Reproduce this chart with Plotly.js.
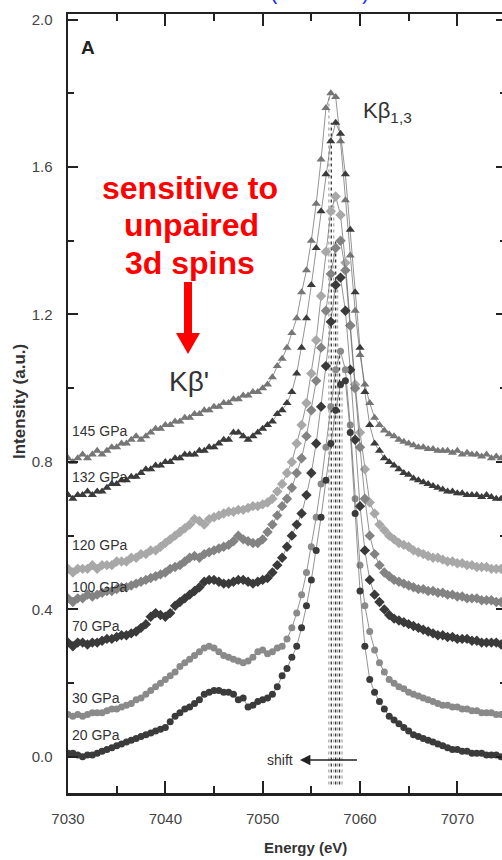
<!DOCTYPE html>
<html>
<head>
<meta charset="utf-8">
<script src="https://cdn.plot.ly/plotly-3.0.1.min.js"></script>
<style>
  html, body { margin: 0; padding: 0; overflow: hidden; background: #fff; }
  #chart { width: 510px; height: 860px; }
</style>
</head>
<body>
<div id="chart"></div>
<script>
// Fe K-beta emission spectra at increasing pressure (offset vertically)
const energy = [
  7030,7030.5,7031,7031.5,7032,7032.5,7033,7033.5,7034,7034.5,
  7035,7035.5,7036,7036.5,7037,7037.5,7038,7038.5,7039,7039.5,
  7040,7040.5,7041,7041.5,7042,7042.5,7043,7043.5,7044,7044.5,
  7045,7045.5,7046,7046.5,7047,7047.5,7048,7048.5,7049,7049.5,
  7050,7050.5,7051,7051.5,7052,7052.5,7053,7053.5,7054,7054.5,
  7055,7055.5,7056,7056.5,7057,7057.5,7058,7058.5,7059,7059.5,
  7060,7060.5,7061,7061.5,7062,7062.5,7063,7063.5,7064,7064.5,
  7065,7065.5,7066,7066.5,7067,7067.5,7068,7068.5,7069,7069.5,
  7070,7070.5,7071,7071.5,7072,7072.5,7073,7073.5,7074,7074.5
];

const gpa145 = [
  0.81,0.80,0.81,0.82,0.81,0.82,0.83,0.82,0.83,0.84,
  0.84,0.85,0.85,0.86,0.87,0.86,0.87,0.88,0.89,0.89,
  0.90,0.90,0.91,0.91,0.92,0.92,0.93,0.93,0.94,0.94,
  0.95,0.95,0.96,0.96,0.97,0.97,0.98,0.98,0.99,0.99,
  1.00,1.01,1.03,1.06,1.08,1.11,1.15,1.19,1.26,1.32,
  1.40,1.50,1.62,1.76,1.80,1.79,1.67,1.51,1.36,1.21,
  1.09,1.01,0.96,0.92,0.90,0.885,0.875,0.87,0.86,0.855,
  0.85,0.845,0.84,0.84,0.835,0.835,0.83,0.83,0.83,0.825,
  0.83,0.82,0.825,0.82,0.82,0.815,0.82,0.81,0.815,0.81
];
const gpa132 = [
  0.71,0.70,0.71,0.71,0.72,0.71,0.72,0.72,0.73,0.74,
  0.74,0.75,0.75,0.76,0.76,0.77,0.78,0.78,0.79,0.79,
  0.80,0.80,0.81,0.81,0.82,0.82,0.82,0.83,0.83,0.84,
  0.84,0.85,0.86,0.86,0.88,0.88,0.87,0.86,0.87,0.88,
  0.89,0.90,0.91,0.93,0.94,0.96,0.99,1.04,1.11,1.19,
  1.28,1.38,1.48,1.58,1.67,1.72,1.69,1.58,1.43,1.26,
  1.11,0.99,0.90,0.85,0.83,0.81,0.80,0.79,0.78,0.77,
  0.765,0.755,0.75,0.745,0.74,0.735,0.73,0.725,0.72,0.72,
  0.715,0.715,0.71,0.71,0.71,0.705,0.71,0.705,0.70,0.70
];
const gpa120 = [
  0.51,0.50,0.51,0.51,0.51,0.52,0.51,0.52,0.52,0.52,
  0.53,0.53,0.53,0.54,0.54,0.55,0.55,0.56,0.56,0.57,
  0.58,0.59,0.60,0.61,0.62,0.63,0.645,0.64,0.63,0.645,
  0.65,0.655,0.66,0.665,0.665,0.67,0.67,0.675,0.68,0.68,
  0.685,0.69,0.70,0.72,0.74,0.77,0.80,0.85,0.90,0.96,
  1.04,1.13,1.25,1.37,1.48,1.52,1.47,1.34,1.17,1.01,
  0.88,0.78,0.69,0.66,0.63,0.615,0.60,0.59,0.58,0.575,
  0.57,0.56,0.555,0.55,0.545,0.54,0.54,0.535,0.53,0.53,
  0.525,0.525,0.52,0.52,0.515,0.515,0.515,0.51,0.51,0.51
];
const gpa100 = [
  0.43,0.42,0.43,0.43,0.44,0.435,0.44,0.445,0.45,0.45,
  0.455,0.46,0.46,0.465,0.47,0.475,0.48,0.485,0.49,0.495,
  0.50,0.51,0.515,0.52,0.53,0.54,0.545,0.54,0.55,0.555,
  0.56,0.565,0.57,0.575,0.585,0.60,0.59,0.585,0.58,0.58,
  0.59,0.61,0.63,0.655,0.68,0.70,0.73,0.77,0.81,0.87,
  0.94,1.02,1.11,1.21,1.31,1.38,1.40,1.32,1.17,1.00,
  0.84,0.70,0.60,0.55,0.52,0.50,0.49,0.48,0.475,0.47,
  0.465,0.46,0.455,0.455,0.45,0.45,0.445,0.445,0.44,0.44,
  0.435,0.435,0.43,0.43,0.43,0.425,0.425,0.425,0.42,0.42
];
const gpa70 = [
  0.31,0.30,0.31,0.31,0.305,0.31,0.31,0.315,0.32,0.32,
  0.325,0.33,0.33,0.335,0.34,0.35,0.36,0.38,0.39,0.385,
  0.38,0.39,0.41,0.42,0.43,0.44,0.45,0.46,0.475,0.48,
  0.48,0.475,0.47,0.47,0.475,0.48,0.48,0.475,0.47,0.475,
  0.48,0.485,0.50,0.52,0.54,0.57,0.60,0.63,0.66,0.71,
  0.77,0.85,0.95,1.06,1.18,1.28,1.30,1.21,1.05,0.86,
  0.68,0.56,0.48,0.44,0.42,0.40,0.385,0.375,0.37,0.365,
  0.36,0.355,0.35,0.345,0.34,0.335,0.33,0.33,0.325,0.325,
  0.32,0.32,0.32,0.315,0.315,0.31,0.31,0.31,0.31,0.305
];
const gpa30 = [
  0.115,0.11,0.115,0.11,0.115,0.12,0.12,0.12,0.125,0.13,
  0.13,0.135,0.14,0.145,0.155,0.16,0.17,0.18,0.19,0.20,
  0.21,0.22,0.23,0.245,0.255,0.265,0.275,0.285,0.295,0.30,
  0.295,0.285,0.275,0.27,0.265,0.26,0.255,0.26,0.27,0.285,
  0.29,0.28,0.285,0.295,0.30,0.32,0.35,0.39,0.44,0.50,
  0.57,0.65,0.74,0.84,0.95,1.05,1.10,1.05,0.90,0.70,
  0.52,0.41,0.34,0.29,0.255,0.23,0.21,0.20,0.19,0.185,
  0.175,0.17,0.165,0.16,0.155,0.15,0.145,0.14,0.14,0.135,
  0.135,0.13,0.13,0.125,0.125,0.12,0.12,0.12,0.115,0.115
];
const gpa20 = [
  0.01,0.01,0.005,0.00,0.005,0.005,0.01,0.015,0.02,0.025,
  0.03,0.035,0.04,0.045,0.05,0.055,0.06,0.065,0.07,0.075,
  0.08,0.095,0.11,0.12,0.13,0.135,0.145,0.155,0.17,0.175,
  0.18,0.18,0.175,0.175,0.17,0.155,0.16,0.135,0.14,0.15,
  0.155,0.16,0.17,0.19,0.22,0.24,0.27,0.30,0.35,0.41,
  0.48,0.56,0.65,0.75,0.85,0.94,1.01,1.02,0.88,0.66,
  0.45,0.30,0.21,0.175,0.15,0.13,0.11,0.10,0.09,0.08,
  0.07,0.06,0.055,0.05,0.045,0.04,0.035,0.03,0.025,0.02,
  0.02,0.015,0.015,0.01,0.01,0.01,0.005,0.005,0.005,0.00
];

const pressureLabels = ['145 GPa','132 GPa','120 GPa','100 GPa','70 GPa','30 GPa','20 GPa'];
const labelY = [0.885, 0.760, 0.575, 0.460, 0.355, 0.160, 0.060];

// Kβ1,3 peak positions (dotted guides)
const peakEnergy = [7056.8, 7057.05, 7057.3, 7057.5, 7057.7, 7057.9, 7058.15];
const peakHeight = [1.80, 1.72, 1.52, 1.40, 1.30, 1.10, 1.02];
const guideBase = -0.075;

const xTicks = [7030, 7040, 7050, 7060, 7070];
const xTickText = ['7030', '7040', '7050', '7060', '7070'];
const xMinor = [7035, 7045, 7055, 7065];
const yTicks = [0, 0.4, 0.8, 1.2, 1.6, 2.0];
const yTickText = ['0.0', '0.4', '0.8', '1.2', '1.6', '2.0'];
const yMinor = [0.2, 0.6, 1.0, 1.4, 1.8];

const series = [
  { y: gpa145, color: '#767676', symbol: 'triangle-up', size: 8 },
  { y: gpa132, color: '#3b3b3b', symbol: 'triangle-up', size: 8 },
  { y: gpa120, color: '#a8a8a8', symbol: 'diamond', size: 8 },
  { y: gpa100, color: '#838383', symbol: 'diamond', size: 8 },
  { y: gpa70,  color: '#3a3a3a', symbol: 'diamond', size: 8 },
  { y: gpa30,  color: '#8a8a8a', symbol: 'circle', size: 7 },
  { y: gpa20,  color: '#3b3b3b', symbol: 'circle', size: 7 }
];

const NARROW = '"Liberation Sans Narrow", "Arial Narrow", "Liberation Sans", Arial, sans-serif';
const SANS = '"Liberation Sans", Arial, sans-serif';

const traces = [];

// dotted peak guides
peakEnergy.forEach((e, i) => {
  traces.push({
    x: [e, e], y: [guideBase, peakHeight[i]],
    mode: 'lines', hoverinfo: 'skip',
    line: { color: i % 2 ? '#333' : '#aaa', width: 1.3, dash: 'dot' }
  });
});

series.forEach(s => {
  traces.push({
    x: energy, y: s.y, mode: 'lines+markers',
    line: { color: '#666', width: 0.7 },
    marker: { symbol: s.symbol, size: s.size, color: s.color, line: { width: 0 } }
  });
});

// paper-coordinate helpers for page-placed decorations
const L = 68, R = 506, T = 14, B = 793;
const px = v => (v - L) / (R - L);
const py = v => (B - v) / (B - T);

const annotations = [
  { text: '<b>A</b>', x: px(88), y: py(48), font: { size: 19, color: '#222', family: SANS } },
  { text: 'Kβ<sub>1,3</sub>', x: px(361), y: py(112), xanchor: 'left', font: { size: 22, color: '#333', family: NARROW } },
  { text: "Kβ'", x: px(189), y: py(381), font: { size: 28, color: '#333', family: NARROW } },
  { text: '<b>sensitive to</b>', x: px(190), y: py(188), font: { size: 32, color: '#ff0000', family: SANS } },
  { text: '<b>unpaired</b>', x: px(191), y: py(225), font: { size: 32, color: '#ff0000', family: SANS } },
  { text: '<b>3d spins</b>', x: px(190), y: py(263), font: { size: 32, color: '#ff0000', family: SANS } },
  { text: 'shift', x: px(280), y: py(760), font: { size: 14, color: '#333', family: NARROW } },
  { text: ' ', x: px(300), y: py(760), ax: 60, ay: 0, showarrow: true,
    arrowhead: 2, arrowsize: 1.3, arrowwidth: 1.6, arrowcolor: '#222' },
  { text: '<b>Energy (eV)</b>', x: px(305), y: py(848), font: { size: 15, color: '#333', family: NARROW } },
  { text: '<b>Intensity (a.u.)</b>', x: px(19), y: py(402), textangle: -90, font: { size: 17, color: '#333', family: NARROW } },
  { text: '(', x: px(274), y: py(6), yanchor: 'bottom', font: { size: 22, color: '#2233ee', family: SANS } },
  { text: ')', x: px(365), y: py(6), yanchor: 'bottom', font: { size: 22, color: '#2233ee', family: SANS } }
].map(a => Object.assign({ xref: 'paper', yref: 'paper', showarrow: false, xanchor: 'center', yanchor: 'middle' }, a));

pressureLabels.forEach((t, i) => {
  annotations.push({
    text: t, xref: 'x', yref: 'y', x: 7030.2, y: labelY[i], xanchor: 'left', yanchor: 'middle',
    showarrow: false, font: { size: 14, color: '#333', family: NARROW }
  });
});

const shapes = [{
  type: 'path', xref: 'paper', yref: 'paper', fillcolor: '#ff0000', line: { width: 0 },
  path: `M ${px(184)} ${py(282)} L ${px(192)} ${py(282)} L ${px(192)} ${py(333)} L ${px(200)} ${py(333)} ` +
        `L ${px(188)} ${py(354)} L ${px(176)} ${py(333)} L ${px(184)} ${py(333)} Z`
}];

const axisCommon = {
  showline: true, linewidth: 2.5, linecolor: '#222', mirror: 'ticks',
  ticks: 'inside', tickwidth: 2, tickcolor: '#222',
  showgrid: false, zeroline: false,
  tickfont: { size: 15, color: '#444', family: NARROW }
};

const layout = {
  width: 510, height: 860,
  margin: { l: L, r: 510 - R, t: T, b: 860 - B },
  paper_bgcolor: '#fff', plot_bgcolor: '#fff',
  showlegend: false,
  xaxis: Object.assign({}, axisCommon, {
    range: [7030, 7075], tickmode: 'array', tickvals: xTicks, ticktext: xTickText,
    ticklen: 12, ticklabelstandoff: 10,
    minor: { tickmode: 'array', tickvals: xMinor, ticks: 'inside', ticklen: 7, tickwidth: 2, tickcolor: '#222' }
  }),
  yaxis: Object.assign({}, axisCommon, {
    range: [-0.098, 2.015], tickmode: 'array', tickvals: yTicks, ticktext: yTickText,
    ticklen: 10, ticklabelstandoff: 10,
    minor: { tickmode: 'array', tickvals: yMinor, ticks: 'inside', ticklen: 6, tickwidth: 2, tickcolor: '#222' }
  }),
  annotations: annotations,
  shapes: shapes
};

Plotly.newPlot('chart', traces, layout, { staticPlot: true, displayModeBar: false });
</script>
</body>
</html>
